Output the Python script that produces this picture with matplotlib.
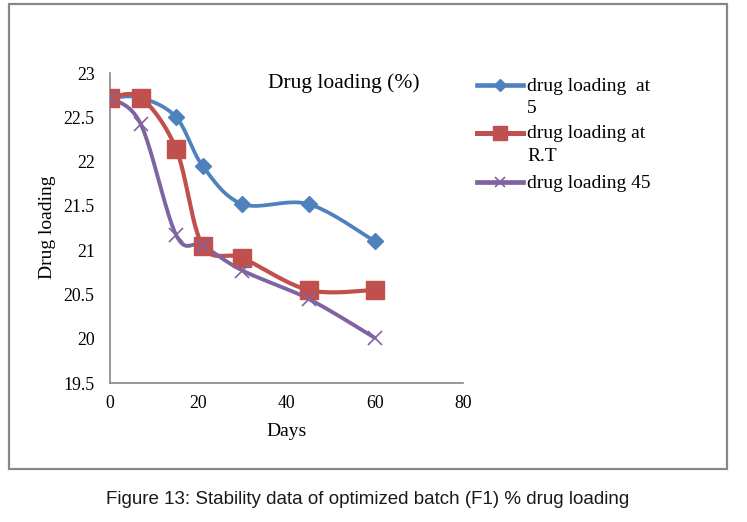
import numpy as np
import matplotlib
matplotlib.use("Agg")
import matplotlib.pyplot as plt
from matplotlib.lines import Line2D
from matplotlib.patches import Rectangle

# data
days = [0, 7, 15, 21, 30, 45, 60]
at_5 = [22.72, 22.72, 22.5, 21.95, 21.52, 21.52, 21.1]
at_rt = [22.72, 22.72, 22.14, 21.05, 20.91, 20.55, 20.55]
at_45 = [22.72, 22.42, 21.17, 21.05, 20.77, 20.45, 20.01]
names = ["drug loading  at\n5", "drug loading at\nR.T", "drug loading 45"]
yticks = [19.5, 20, 20.5, 21, 21.5, 22, 22.5, 23]
ylabels = ["19.5", "20", "20.5", "21", "21.5", "22", "22.5", "23"]
xticks = [0, 20, 40, 60, 80]

W, H = 747, 522
serif = "Liberation Serif"


def smooth(x, y, n=40):
    # excel style smoothed line (bezier through the points)
    p = np.column_stack([x, y]).astype(float)
    q = np.vstack([p[0], p, p[-1]])
    out = []
    t = np.linspace(0, 1, n)[:, None]
    for i in range(len(p) - 1):
        p0, p1, p2, p3 = q[i], q[i + 1], q[i + 2], q[i + 3]
        c1 = p1 + (p2 - p0) / 6
        c2 = p2 - (p3 - p1) / 6
        seg = (1 - t) ** 3 * p1 + 3 * (1 - t) ** 2 * t * c1 + 3 * (1 - t) * t ** 2 * c2 + t ** 3 * p2
        out.append(seg)
    out = np.vstack(out)
    return out[:, 0], out[:, 1]


fig = plt.figure(figsize=(W / 100, H / 100), dpi=100)
ax = fig.add_axes([110 / W, 1 - 383 / H, 353 / W, 310 / H])

styles = [
    dict(color="#4F81BD", marker="D", ms=8, lw=2.7, mew=1),
    dict(color="#C0504D", marker="s", ms=12.5, lw=3.0, mew=1),
    dict(color="#8064A2", marker="x", ms=10, lw=2.8, mew=1.2),
]
for vals, st in zip([at_5, at_rt, at_45], styles):
    sx, sy = smooth(days, vals)
    ax.plot(sx, sy, color=st["color"], lw=st["lw"], solid_capstyle="round", zorder=2)
    ax.plot(days, vals, ls="none", marker=st["marker"], ms=st["ms"], color=st["color"],
            mec=st["color"], mew=st["mew"], zorder=3)

ax.set_xlim(0, 80)
ax.set_ylim(19.5, 23)
ax.set_xticks(xticks)
ax.set_xticklabels([str(v) for v in xticks], fontfamily=serif, fontsize=12.8)
ax.set_yticks(yticks)
ax.set_yticklabels(ylabels, fontfamily=serif, fontsize=12.8)
ax.tick_params(length=0)
ax.tick_params(axis="y", pad=11)
ax.tick_params(axis="x", pad=9)
for s in ["top", "right"]:
    ax.spines[s].set_visible(False)
for s in ["left", "bottom"]:
    ax.spines[s].set_color("#868686")
    ax.spines[s].set_linewidth(1.2)
ax.patch.set_alpha(0)

fig.text(344 / W, 1 - 83 / H, "Drug loading (%)", fontfamily=serif, fontsize=15.5,
         ha="center", va="center")
fig.text(287 / W, 1 - 431 / H, "Days", fontfamily=serif, fontsize=14, ha="center", va="center")
fig.text(48 / W, 1 - 227 / H, "Drug loading", fontfamily=serif, fontsize=14,
         ha="center", va="center", rotation=90)

# legend, drawn by hand so the key sits on the first text line
rows = [85, 133, 182]
for name, st, yy in zip(names, styles, rows):
    yf = 1 - yy / H
    fig.add_artist(Line2D([477 / W, 523 / W], [yf, yf], transform=fig.transFigure,
                          color=st["color"], lw=st["lw"] + 0.6))
    fig.add_artist(Line2D([500 / W], [yf], transform=fig.transFigure, ls="none",
                          marker=st["marker"], ms=st["ms"] * 0.75, color=st["color"],
                          mew=st["mew"]))
    for k, line in enumerate(name.split("\n")):
        fig.text(527 / W, 1 - (yy + 1 + 22.5 * k) / H, line, fontfamily=serif,
                 fontsize=14, ha="left", va="center")

# outer chart frame
fig.add_artist(Rectangle((9 / W, 1 - 469 / H), 718 / W, 465 / H, transform=fig.transFigure,
                         fill=False, edgecolor="#878787", lw=1.6))

fig.text(368 / W, 1 - 500 / H, "Figure 13: Stability data of optimized batch (F1) % drug loading",
         fontfamily="Liberation Sans", fontsize=13.5, color="#1a1a1a", ha="center", va="center")

fig.savefig("out.png", dpi=100)
